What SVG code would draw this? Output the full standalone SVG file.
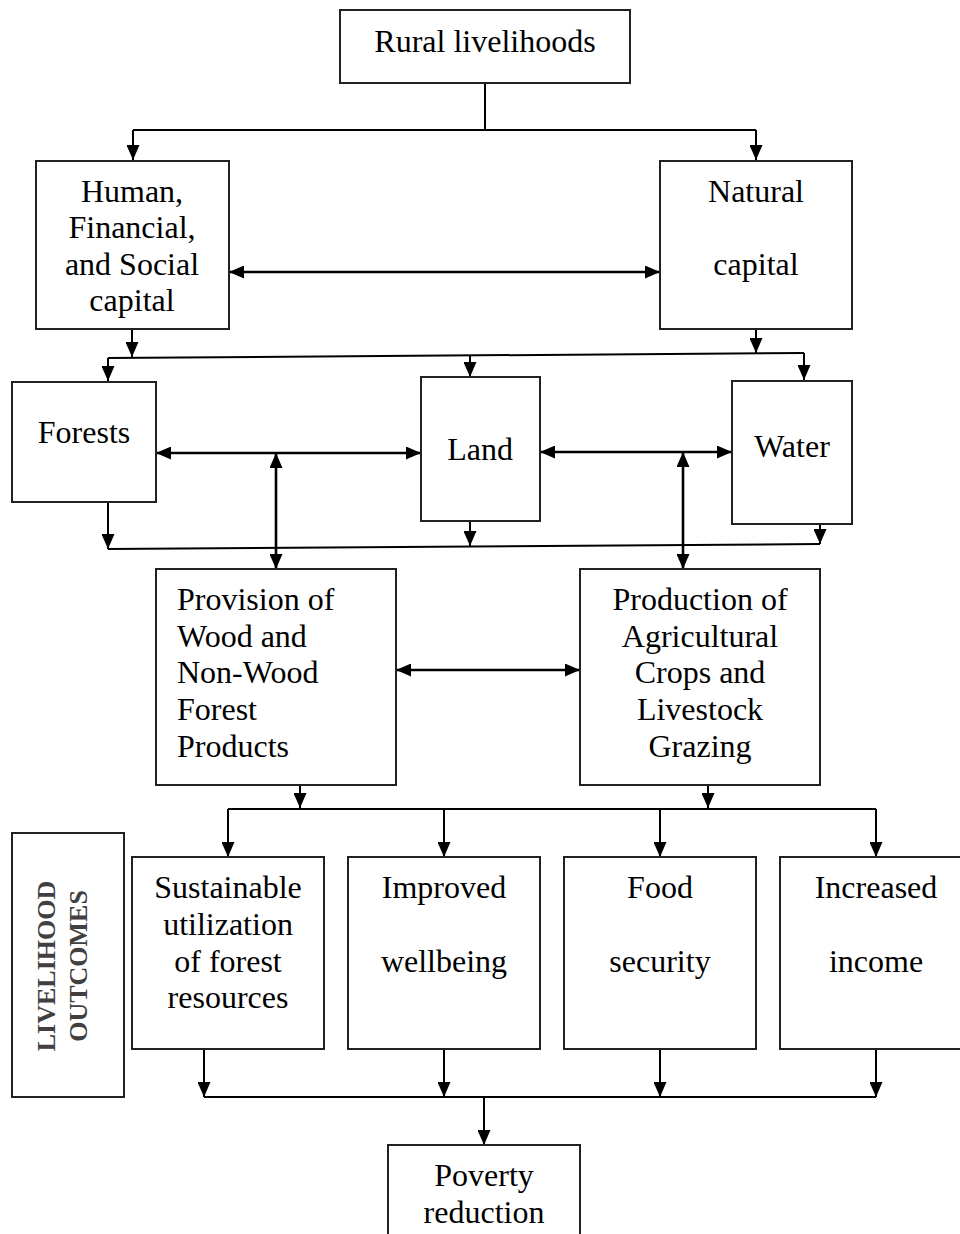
<svg xmlns="http://www.w3.org/2000/svg" width="960" height="1234" viewBox="0 0 960 1234">
<style>
.box{fill:#fff;stroke:#222;stroke-width:2}
.t{font-family:"Liberation Serif","Times New Roman",serif;font-size:32px;fill:#000;text-anchor:middle}
.tl{text-anchor:start}
.c{stroke:#000;stroke-width:2;fill:none}
.d{stroke-width:2.6}
.lab{font-family:"Liberation Serif","Times New Roman",serif;font-size:26px;font-weight:bold;fill:#404040;text-anchor:middle}
</style>
<defs>
<marker id="ah" viewBox="0 0 15 13" refX="15" refY="6.5" markerWidth="15" markerHeight="13" markerUnits="userSpaceOnUse" orient="auto-start-reverse">
<path d="M0,0 L15,6.5 L0,13 z" fill="#000"/>
</marker>
</defs>
<rect width="960" height="1234" fill="#fff"/>

<g id="connectors">
<line class="c" x1="485" y1="83" x2="485" y2="130"/>
<line class="c" x1="133" y1="130" x2="756" y2="130"/>
<line class="c" x1="133" y1="130" x2="133" y2="160" marker-end="url(#ah)"/>
<line class="c" x1="756" y1="130" x2="756" y2="160" marker-end="url(#ah)"/>
<line class="c d" x1="229" y1="272" x2="660" y2="272" marker-start="url(#ah)" marker-end="url(#ah)"/>
<line class="c" x1="132" y1="329" x2="132" y2="357" marker-end="url(#ah)"/>
<line class="c" x1="756" y1="329" x2="756" y2="353" marker-end="url(#ah)"/>
<line class="c" x1="108" y1="358" x2="804" y2="353"/>
<line class="c" x1="108" y1="358" x2="108" y2="381" marker-end="url(#ah)"/>
<line class="c" x1="470" y1="355" x2="470" y2="377" marker-end="url(#ah)"/>
<line class="c" x1="804" y1="353" x2="804" y2="380" marker-end="url(#ah)"/>
<line class="c d" x1="156" y1="453" x2="421" y2="453" marker-start="url(#ah)" marker-end="url(#ah)"/>
<line class="c d" x1="540" y1="452" x2="732" y2="452" marker-start="url(#ah)" marker-end="url(#ah)"/>
<line class="c d" x1="276" y1="453" x2="276" y2="569" marker-start="url(#ah)" marker-end="url(#ah)"/>
<line class="c d" x1="683" y1="452" x2="683" y2="569" marker-start="url(#ah)" marker-end="url(#ah)"/>
<line class="c" x1="108" y1="502" x2="108" y2="549" marker-end="url(#ah)"/>
<line class="c" x1="470" y1="521" x2="470" y2="546" marker-end="url(#ah)"/>
<line class="c" x1="820" y1="520" x2="820" y2="544" marker-end="url(#ah)"/>
<line class="c" x1="108" y1="549" x2="820" y2="544"/>
<line class="c d" x1="396" y1="670" x2="580" y2="670" marker-start="url(#ah)" marker-end="url(#ah)"/>
<line class="c" x1="300" y1="785" x2="300" y2="808" marker-end="url(#ah)"/>
<line class="c" x1="708" y1="785" x2="708" y2="808" marker-end="url(#ah)"/>
<line class="c" x1="228" y1="809" x2="876" y2="809"/>
<line class="c" x1="228" y1="809" x2="228" y2="857" marker-end="url(#ah)"/>
<line class="c" x1="444" y1="809" x2="444" y2="857" marker-end="url(#ah)"/>
<line class="c" x1="660" y1="809" x2="660" y2="857" marker-end="url(#ah)"/>
<line class="c" x1="876" y1="809" x2="876" y2="857" marker-end="url(#ah)"/>
<line class="c" x1="204" y1="1049" x2="204" y2="1097" marker-end="url(#ah)"/>
<line class="c" x1="444" y1="1049" x2="444" y2="1097" marker-end="url(#ah)"/>
<line class="c" x1="660" y1="1049" x2="660" y2="1097" marker-end="url(#ah)"/>
<line class="c" x1="876" y1="1049" x2="876" y2="1097" marker-end="url(#ah)"/>
<line class="c" x1="204" y1="1097" x2="876" y2="1097"/>
<line class="c" x1="484" y1="1097" x2="484" y2="1145" marker-end="url(#ah)"/>
</g>

<g id="rural">
<rect class="box" x="340" y="10" width="290" height="73"/>
<text class="t" x="485" y="52">Rural livelihoods</text>
</g>
<g id="human">
<rect class="box" x="36" y="161" width="193" height="168"/>
<text class="t" x="132" y="202">Human,</text>
<text class="t" x="132" y="238">Financial,</text>
<text class="t" x="132" y="275">and Social</text>
<text class="t" x="132" y="311">capital</text>
</g>
<g id="natural">
<rect class="box" x="660" y="161" width="192" height="168"/>
<text class="t" x="756" y="202">Natural</text>
<text class="t" x="756" y="275">capital</text>
</g>
<g id="forests">
<rect class="box" x="12" y="382" width="144" height="120"/>
<text class="t" x="84" y="443">Forests</text>
</g>
<g id="land">
<rect class="box" x="421" y="377" width="119" height="144"/>
<text class="t" x="480" y="460">Land</text>
</g>
<g id="water">
<rect class="box" x="732" y="381" width="120" height="143"/>
<text class="t" x="792" y="457">Water</text>
</g>
<g id="provision">
<rect class="box" x="156" y="569" width="240" height="216"/>
<text class="t tl" x="177" y="610">Provision of</text>
<text class="t tl" x="177" y="647">Wood and</text>
<text class="t tl" x="177" y="683">Non-Wood</text>
<text class="t tl" x="177" y="720">Forest</text>
<text class="t tl" x="177" y="757">Products</text>
</g>
<g id="production">
<rect class="box" x="580" y="569" width="240" height="216"/>
<text class="t" x="700" y="610">Production of</text>
<text class="t" x="700" y="647">Agricultural</text>
<text class="t" x="700" y="683">Crops and</text>
<text class="t" x="700" y="720">Livestock</text>
<text class="t" x="700" y="757">Grazing</text>
</g>
<g id="livelihood-outcomes">
<rect class="box" x="12" y="833" width="112" height="264"/>
<text class="lab" transform="translate(55,966) rotate(-90)">LIVELIHOOD</text>
<text class="lab" transform="translate(87,966) rotate(-90)">OUTCOMES</text>
</g>
<g id="sustainable">
<rect class="box" x="132" y="857" width="192" height="192"/>
<text class="t" x="228" y="898">Sustainable</text>
<text class="t" x="228" y="935">utilization</text>
<text class="t" x="228" y="972">of forest</text>
<text class="t" x="228" y="1008">resources</text>
</g>
<g id="wellbeing">
<rect class="box" x="348" y="857" width="192" height="192"/>
<text class="t" x="444" y="898">Improved</text>
<text class="t" x="444" y="972">wellbeing</text>
</g>
<g id="food">
<rect class="box" x="564" y="857" width="192" height="192"/>
<text class="t" x="660" y="898">Food</text>
<text class="t" x="660" y="972">security</text>
</g>
<g id="income">
<rect class="box" x="780" y="857" width="192" height="192"/>
<text class="t" x="876" y="898">Increased</text>
<text class="t" x="876" y="972">income</text>
</g>
<g id="poverty">
<rect class="box" x="388" y="1145" width="192" height="100"/>
<text class="t" x="484" y="1186">Poverty</text>
<text class="t" x="484" y="1223">reduction</text>
</g>
</svg>
